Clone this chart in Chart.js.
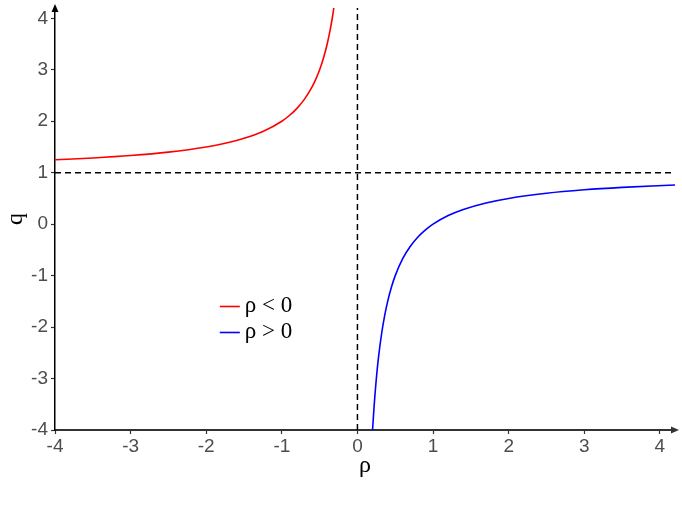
<!DOCTYPE html>
<html>
<head>
<meta charset="utf-8">
<script src="https://cdn.jsdelivr.net/npm/chart.js@4"></script>
<style>
html,body{margin:0;padding:0;background:#fff;}
#wrap{width:682px;height:511px;position:relative;}
</style>
</head>
<body>
<div id="wrap"><canvas id="c"></canvas></div>
<script>
// ---- data ----
const rhoNeg = [-4, -3.5, -3, -2.5, -2, -1.75, -1.5, -1.25, -1, -0.9, -0.8, -0.7, -0.6, -0.55, -0.5, -0.45, -0.4, -0.36, -0.33, -0.3125];
const qNeg   = [1.25, 1.286, 1.333, 1.4, 1.5, 1.571, 1.667, 1.8, 2.0, 2.111, 2.25, 2.429, 2.667, 2.818, 3.0, 3.222, 3.5, 3.778, 4.03, 4.2];
const rhoPos = [0.2, 0.22, 0.25, 0.28, 0.32, 0.36, 0.4, 0.45, 0.5, 0.6, 0.7, 0.8, 0.9, 1.0, 1.2, 1.4, 1.7, 2.0, 2.5, 3.0, 3.5, 4.2];
const qPos   = [-4, -3.545, -3, -2.571, -2.125, -1.778, -1.5, -1.222, -1, -0.667, -0.429, -0.25, -0.111, 0, 0.167, 0.286, 0.412, 0.5, 0.6, 0.667, 0.714, 0.762];
const xTicks = [-4, -3, -2, -1, 0, 1, 2, 3, 4];
const yTicks = [-4, -3, -2, -1, 0, 1, 2, 3, 4];
const xRange = [-4, 4.2];
const yRange = [-4, 4.2];
const refX = 0;   // vertical dashed reference
const refY = 1;   // horizontal dashed reference
const legendLabels = ['ρ < 0', 'ρ > 0'];
const xTitle = 'ρ';
const yTitle = 'q';

const toPts = (xs, ys) => xs.map((x, i) => ({x: x, y: ys[i]}));

const arrowPlugin = {
  id: 'arrows',
  afterDraw(chart) {
    const {ctx, scales} = chart;
    ctx.save();
    // x axis arrow
    const yb = scales.y.getPixelForValue(yRange[0]);
    const xr = scales.x.getPixelForValue(xRange[1]);
    ctx.fillStyle = '#333';
    ctx.beginPath();
    ctx.moveTo(xr + 4, yb);
    ctx.lineTo(xr - 4, yb - 3.5);
    ctx.lineTo(xr - 4, yb + 3.5);
    ctx.closePath();
    ctx.fill();
    // y axis arrow
    const xl = scales.x.getPixelForValue(xRange[0]);
    const yt = scales.y.getPixelForValue(yRange[1]);
    ctx.fillStyle = '#000';
    ctx.beginPath();
    ctx.moveTo(xl, yt - 4);
    ctx.lineTo(xl - 3.5, yt + 4);
    ctx.lineTo(xl + 3.5, yt + 4);
    ctx.closePath();
    ctx.fill();
    // legend
    const lx = scales.x.getPixelForValue(-1.82);
    const ly0 = scales.y.getPixelForValue(-1.6);
    const colors = ['#ff0000', '#0000ff'];
    ctx.font = '23px "Liberation Serif", serif';
    ctx.textBaseline = 'middle';
    ctx.textAlign = 'left';
    legendLabels.forEach((lab, i) => {
      const yy = ly0 + i * 26;
      ctx.strokeStyle = colors[i];
      ctx.lineWidth = 1.6;
      ctx.beginPath();
      ctx.moveTo(lx, yy);
      ctx.lineTo(lx + 20, yy);
      ctx.stroke();
      ctx.fillStyle = '#000';
      ctx.fillText(lab, lx + 25, yy - 1);
    });
    ctx.restore();
  }
};

const tickFont = {family: '"Liberation Sans", Arial, sans-serif', size: 19};

new Chart(document.getElementById('c'), {
  type: 'line',
  data: {
    datasets: [
      {label: 'refY', data: [{x: xRange[0], y: refY}, {x: xRange[1], y: refY}], borderColor: '#000', borderWidth: 1.5, borderDash: [6, 4], pointRadius: 0, fill: false},
      {label: 'refX', data: [{x: refX, y: yRange[0]}, {x: refX, y: yRange[1]}], borderColor: '#000', borderWidth: 1.5, borderDash: [6, 4], pointRadius: 0, fill: false},
      {label: legendLabels[0], data: toPts(rhoNeg, qNeg), borderColor: '#ff0000', borderWidth: 1.6, pointRadius: 0, cubicInterpolationMode: 'monotone', fill: false},
      {label: legendLabels[1], data: toPts(rhoPos, qPos), borderColor: '#0000ff', borderWidth: 1.6, pointRadius: 0, cubicInterpolationMode: 'monotone', fill: false}
    ]
  },
  options: {
    responsive: true,
    maintainAspectRatio: false,
    animation: false,
    layout: {padding: {left: 0, right: 7, top: 8, bottom: 0}},
    plugins: {legend: {display: false}, tooltip: {enabled: false}},
    scales: {
      x: {
        type: 'linear',
        min: xRange[0], max: xRange[1],
        afterBuildTicks: s => { s.ticks = xTicks.map(v => ({value: v})); },
        afterFit: s => { s.height = 81; s.paddingLeft = 0; s.paddingRight = 0; },
        ticks: {font: tickFont, color: '#4d4d4d', padding: 1, maxRotation: 0, callback: v => String(v)},
        grid: {drawOnChartArea: false, drawTicks: true, tickLength: 4, tickColor: '#333', tickWidth: 1.2},
        border: {display: true, color: '#333', width: 2},
        title: {display: true, text: xTitle, color: '#000', font: {family: '"Liberation Serif", serif', size: 24}, padding: {top: 0, bottom: 31}}
      },
      y: {
        type: 'linear',
        min: yRange[0], max: yRange[1],
        afterBuildTicks: s => { s.ticks = yTicks.map(v => ({value: v})); },
        afterFit: s => { s.width = 55; s.paddingTop = 0; s.paddingBottom = 0; },
        ticks: {font: tickFont, color: '#4d4d4d', padding: 3, callback: v => String(v)},
        grid: {drawOnChartArea: false, drawTicks: true, tickLength: 4, tickColor: '#333', tickWidth: 1.2},
        border: {display: true, color: '#000', width: 1.5},
        title: {display: true, text: yTitle, color: '#000', font: {family: '"Liberation Serif", serif', size: 24}, padding: {top: 1, bottom: 0}}
      }
    }
  },
  plugins: [arrowPlugin]
});
</script>
</body>
</html>
